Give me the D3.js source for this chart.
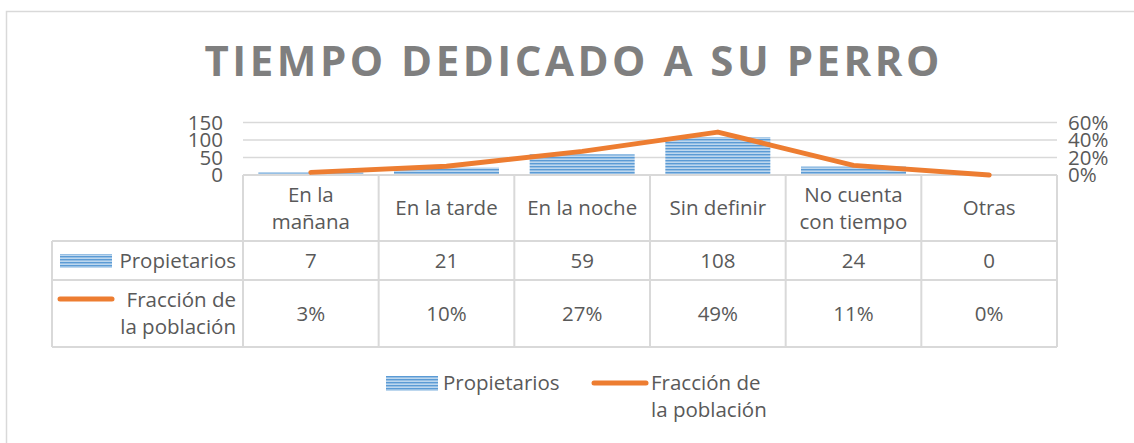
<!DOCTYPE html>
<html>
<head>
<meta charset="utf-8">
<script src="https://cdn.jsdelivr.net/npm/d3@7"></script>
<style>
  body { margin: 0; background: #fff; }
  svg text { font-family: "Open Sans", sans-serif; fill: #595959; font-size: 20.5px; }
</style>
</head>
<body>
<div id="chart"></div>
<script>
// data
var categories = [["En la", "mañana"], ["En la tarde"], ["En la noche"], ["Sin definir"], ["No cuenta", "con tiempo"], ["Otras"]];
var propietarios = [7, 21, 59, 108, 24, 0];
var fraccion = [0.03, 0.10, 0.27, 0.49, 0.11, 0.00];
var leftTicks = [0, 50, 100, 150];
var rightTicks = [0, 0.2, 0.4, 0.6];

var W = 1134, H = 443;
var svg = d3.select("#chart").append("svg").attr("width", W).attr("height", H);

var defs = svg.append("defs");
var pat = defs.append("pattern").attr("id", "stripes")
    .attr("patternUnits", "userSpaceOnUse").attr("width", 6).attr("height", 3);
pat.append("rect").attr("width", 6).attr("height", 3).attr("fill", "#bdd7ee");
pat.append("rect").attr("y", 1).attr("width", 6).attr("height", 1.4).attr("fill", "#5b9bd5");

// outer chart border
svg.append("rect").attr("x", 6.5).attr("y", 11.5).attr("width", 1140).attr("height", 460)
    .attr("fill", "none").attr("stroke", "#d9d9d9").attr("stroke-width", 1.5);

// title
svg.append("text").attr("x", 572).attr("y", 76).attr("text-anchor", "middle")
    .attr("textLength", 735).attr("lengthAdjust", "spacing")
    .style("font-weight", "bold").style("font-size", "42px").style("fill", "#7f7f7f")
    .text("TIEMPO DEDICADO A SU PERRO");

var plotL = 243, plotR = 1057, plotT = 122.5, base = 175;
var x = d3.scaleBand().domain(d3.range(categories.length)).range([plotL, plotR]).paddingInner(0).paddingOuter(0);
var y = d3.scaleLinear().domain([0, 150]).range([base, plotT]);
var y2 = d3.scaleLinear().domain([0, 0.6]).range([base, plotT]);

// gridlines
svg.append("g").selectAll("line").data(leftTicks.slice(1)).enter().append("line")
    .attr("x1", plotL).attr("x2", plotR).attr("y1", function(d){ return y(d); }).attr("y2", function(d){ return y(d); })
    .attr("stroke", "#d9d9d9").attr("stroke-width", 1.5);

// left axis
svg.append("g").selectAll("text").data(leftTicks).enter().append("text")
    .attr("x", 223).attr("y", function(d){ return y(d) + 7; })
    .attr("text-anchor", "end")
    .text(function(d){ return d; });

// right axis
svg.append("g").selectAll("text").data(rightTicks).enter().append("text")
    .attr("x", 1068).attr("y", function(d){ return y2(d) + 7; })
    .text(d3.format(".0%"));

// bars
var bw = 105;
svg.append("g").selectAll("rect").data(propietarios).enter().append("rect")
    .attr("x", function(d, i){ return x(i) + (x.bandwidth() - bw) / 2; })
    .attr("y", function(d){ return y(d); })
    .attr("width", bw)
    .attr("height", function(d){ return base - y(d); })
    .attr("fill", "url(#stripes)");

// table
var rowY = [175, 241, 280, 347];
var tbl = svg.append("g").attr("stroke", "#d9d9d9").attr("stroke-width", 2);
tbl.append("line").attr("x1", plotL).attr("x2", plotR).attr("y1", rowY[0]).attr("y2", rowY[0]);
[1, 2, 3].forEach(function(r){
  tbl.append("line").attr("x1", 52).attr("x2", plotR).attr("y1", rowY[r]).attr("y2", rowY[r]);
});
d3.range(categories.length + 1).forEach(function(i){
  var xx = i < categories.length ? x(i) : plotR;
  tbl.append("line").attr("x1", xx).attr("x2", xx).attr("y1", rowY[0]).attr("y2", rowY[3]);
});
tbl.append("line").attr("x1", 52).attr("x2", 52).attr("y1", rowY[1]).attr("y2", rowY[3]);

// header row
var hdr = svg.append("g");
categories.forEach(function(c, i){
  var cx = x(i) + x.bandwidth() / 2;
  var cy = (rowY[0] + rowY[1]) / 2;
  c.forEach(function(t, j){
    hdr.append("text").attr("x", cx).attr("y", cy + 7 + (j - (c.length - 1) / 2) * 27)
      .attr("text-anchor", "middle").text(t);
  });
});

// row values
var rows = svg.append("g");
propietarios.forEach(function(v, i){
  rows.append("text").attr("x", x(i) + x.bandwidth() / 2).attr("y", (rowY[1] + rowY[2]) / 2 + 7)
    .attr("text-anchor", "middle").text(v);
});
fraccion.forEach(function(v, i){
  rows.append("text").attr("x", x(i) + x.bandwidth() / 2).attr("y", (rowY[2] + rowY[3]) / 2 + 7)
    .attr("text-anchor", "middle").text(d3.format(".0%")(v));
});

// row labels with legend keys
rows.append("rect").attr("x", 60).attr("y", 254).attr("width", 52).attr("height", 14).attr("fill", "url(#stripes)");
rows.append("text").attr("x", 236).attr("y", 268).attr("text-anchor", "end").text("Propietarios");
rows.append("line").attr("x1", 60).attr("x2", 112).attr("y1", 299).attr("y2", 299)
    .attr("stroke", "#ed7d31").attr("stroke-width", 5).attr("stroke-linecap", "round");
rows.append("text").attr("x", 236).attr("y", 307).attr("text-anchor", "end").text("Fracción de");
rows.append("text").attr("x", 236).attr("y", 334).attr("text-anchor", "end").text("la población");

// line
var line = d3.line()
    .x(function(d, i){ return x(i) + x.bandwidth() / 2; })
    .y(function(d){ return y2(d); });
svg.append("path").datum(fraccion).attr("d", line)
    .attr("fill", "none").attr("stroke", "#ed7d31").attr("stroke-width", 5)
    .attr("stroke-linecap", "round").attr("stroke-linejoin", "round");

// legend
var lg = svg.append("g");
lg.append("rect").attr("x", 386).attr("y", 376).attr("width", 52).attr("height", 15).attr("fill", "url(#stripes)");
lg.append("text").attr("x", 443).attr("y", 390).text("Propietarios");
lg.append("line").attr("x1", 594).attr("x2", 646).attr("y1", 383).attr("y2", 383)
    .attr("stroke", "#ed7d31").attr("stroke-width", 5).attr("stroke-linecap", "round");
lg.append("text").attr("x", 651).attr("y", 390).text("Fracción de");
lg.append("text").attr("x", 651).attr("y", 417).text("la población");
</script>
</body>
</html>
